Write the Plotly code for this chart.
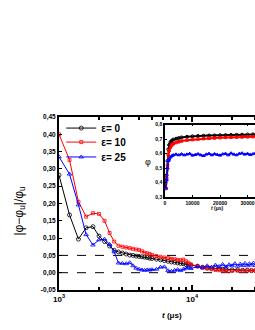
import plotly.graph_objects as go

# ---------------- main chart data ----------------
t_black = [1000, 1200, 1400, 1600, 1800, 2000, 2200, 2400, 2600, 2800, 3000, 3200, 3400, 3600, 3800,
           4000, 4200, 4400, 4600, 4800, 5000, 5400, 5800, 6200, 6600, 7000, 7400, 7800, 8200, 8600,
           9000, 9400, 9800, 11000, 12000, 13000, 14000, 15000, 16000, 17000, 18000, 20000, 22000,
           24000, 26000, 28000, 30000, 32000, 34000, 36000, 38000, 40000]
v_black = [0.282, 0.167, 0.097, 0.130, 0.133, 0.106, 0.090, 0.077, 0.065, 0.060, 0.057, 0.054, 0.051,
           0.050, 0.048, 0.047, 0.046, 0.045, 0.044, 0.042, 0.041, 0.039, 0.037, 0.035, 0.033, 0.031,
           0.030, 0.028, 0.027, 0.026, 0.024, 0.023, 0.022, 0.019, 0.016, 0.014, 0.013, 0.012, 0.011,
           0.010, 0.009, 0.008, 0.008, 0.007, 0.007, 0.006, 0.006, 0.006, 0.006, 0.005, 0.005, 0.005]

t_red = [1000, 1200, 1400, 1600, 1800, 2000, 2200, 2400, 2600, 2800, 3000, 3200, 3400, 3600, 3800,
         4000, 4200, 4400, 4600, 4800, 5000, 5400, 5800, 6200, 6600, 7000, 7400, 7800, 8200, 8600,
         9000, 9400, 9800, 11000, 12000, 13000, 14000, 15000, 16000, 17000, 18000, 20000, 22000,
         24000, 26000, 28000, 30000, 32000, 34000, 36000, 38000, 40000]
v_red = [0.400, 0.326, 0.205, 0.162, 0.172, 0.170, 0.150, 0.115, 0.090, 0.078, 0.075, 0.073, 0.071,
         0.069, 0.067, 0.066, 0.062, 0.058, 0.056, 0.054, 0.051, 0.048, 0.046, 0.044, 0.042, 0.040,
         0.039, 0.037, 0.036, 0.038, 0.033, 0.029, 0.024, 0.019, 0.015, 0.012, 0.010, 0.008, 0.007,
         0.006, 0.005, 0.005, 0.006, 0.005, 0.006, 0.007, 0.006, 0.008, 0.007, 0.009, 0.008, 0.009]

t_blue = [1000, 1200, 1400, 1600, 1800, 2000, 2200, 2400, 2600, 2800, 3000, 3200, 3400, 3600, 3800,
          4000, 4200, 4400, 4600, 4800, 5000, 5400, 5800, 6200, 6600, 7000, 7400, 7800, 8200, 8600,
          9000, 9400, 9800, 11000, 12000, 13000, 14000, 15000, 16000, 17000, 18000, 19000, 20000,
          21000, 22000, 23000, 24000, 25000, 26000, 27000, 28000, 29000, 30000, 31000, 32000, 33000,
          34000, 36000, 38000, 40000]
v_blue = [0.335, 0.285, 0.196, 0.110, 0.080, 0.095, 0.097, 0.082, 0.060, 0.028, 0.027, 0.026, 0.029,
          0.020, 0.013, 0.010, 0.008, 0.007, 0.008, 0.008, 0.009, 0.010, 0.016, 0.017, 0.006, 0.004,
          0.007, 0.009, 0.006, 0.010, 0.013, 0.016, 0.012, 0.018, 0.014, 0.020, 0.016, 0.022, 0.018,
          0.024, 0.017, 0.023, 0.020, 0.026, 0.019, 0.025, 0.021, 0.027, 0.020, 0.026, 0.022, 0.028,
          0.021, 0.026, 0.023, 0.029, 0.022, 0.027, 0.024, 0.028]

ref_levels = [0.05, 0.0]

y_tickvals = [-0.05, 0.0, 0.05, 0.10, 0.15, 0.20, 0.25, 0.30, 0.35, 0.40, 0.45]
y_ticktext = ["-0,05", "0,00", "0,05", "0,10", "0,15", "0,20", "0,25", "0,30", "0,35", "0,40", "0,45"]
x_tickvals = [1000, 10000]
x_ticktext = ["10<sup>3</sup>", "10<sup>4</sup>"]
x_minorvals = [2000, 3000, 4000, 5000, 6000, 7000, 8000, 9000, 20000, 30000, 40000]

# ---------------- inset data ----------------
ti_black = [300, 600, 900, 1200, 1500, 2000, 2500, 3000, 4000, 5000, 6000, 8000, 10000, 12000, 14000,
            16000, 18000, 20000, 22000, 24000, 26000, 28000, 30000, 32000, 34000, 36000, 38000]
vi_black = [0.36, 0.45, 0.55, 0.63, 0.66, 0.68, 0.69, 0.697, 0.703, 0.708, 0.712, 0.716, 0.72, 0.722,
            0.724, 0.725, 0.726, 0.727, 0.728, 0.729, 0.730, 0.731, 0.732, 0.733, 0.734, 0.735, 0.735]
ti_red = [300, 600, 900, 1200, 1500, 2000, 2500, 3000, 4000, 5000, 6000, 8000, 10000, 12000, 14000,
          16000, 18000, 20000, 22000, 24000, 26000, 28000, 30000, 32000, 34000, 36000, 38000]
vi_red = [0.36, 0.43, 0.52, 0.59, 0.62, 0.645, 0.66, 0.668, 0.676, 0.682, 0.687, 0.693, 0.697, 0.701,
          0.704, 0.706, 0.708, 0.710, 0.712, 0.713, 0.714, 0.715, 0.716, 0.717, 0.718, 0.719, 0.72]
ti_blue = [300, 600, 900, 1200, 1500, 2000, 2500, 3000, 4000, 5000, 6000, 7000, 8000, 9000, 10000,
           11000, 12000, 13000, 14000, 15000, 16000, 17000, 18000, 19000, 20000, 21000, 22000, 23000,
           24000, 25000, 26000, 27000, 28000, 29000, 30000, 31000, 32000, 33000, 34000, 35000, 36000,
           37000, 38000]
vi_blue = [0.36, 0.42, 0.50, 0.55, 0.56, 0.575, 0.585, 0.59, 0.595, 0.59, 0.597, 0.59, 0.595, 0.60,
           0.588, 0.592, 0.598, 0.59, 0.585, 0.595, 0.60, 0.59, 0.598, 0.593, 0.588, 0.597, 0.60, 0.59,
           0.603, 0.595, 0.59, 0.60, 0.603, 0.595, 0.60, 0.592, 0.598, 0.604, 0.595, 0.61, 0.60, 0.605,
           0.60]
xi_tickvals = [0, 10000, 20000, 30000]
xi_ticktext = ["0", "10000", "20000", "30000"]
yi_tickvals = [0.3, 0.4, 0.5, 0.6, 0.7, 0.8]
yi_ticktext = ["0,3", "0,4", "0,5", "0,6", "0,7", "0,8"]

labels = ["ε= 0", "ε= 10", "ε= 25"]

FONT = "Liberation Sans"
fig = go.Figure()

fig.add_trace(go.Scatter(x=t_black, y=v_black, mode="lines+markers", name=labels[0], legend="legend",
                         line=dict(color="black", width=1),
                         marker=dict(symbol="circle-open", size=4, color="black", line=dict(width=0.8))))
fig.add_trace(go.Scatter(x=t_red, y=v_red, mode="lines+markers", name=labels[1], legend="legend2",
                         line=dict(color="red", width=1),
                         marker=dict(symbol="square-open", size=3, color="red", line=dict(width=0.8))))
fig.add_trace(go.Scatter(x=t_blue, y=v_blue, mode="lines+markers", name=labels[2], legend="legend3",
                         line=dict(color="blue", width=1),
                         marker=dict(symbol="triangle-up-open", size=4, color="blue", line=dict(width=0.8))))

# inset traces
fig.add_trace(go.Scatter(x=ti_black, y=vi_black, xaxis="x2", yaxis="y2", mode="lines+markers",
                         showlegend=False, line=dict(color="black", width=2),
                         marker=dict(symbol="circle-open", size=3, color="black")))
fig.add_trace(go.Scatter(x=ti_red, y=vi_red, xaxis="x2", yaxis="y2", mode="lines+markers",
                         showlegend=False, line=dict(color="red", width=2),
                         marker=dict(symbol="square-open", size=2.5, color="red")))
fig.add_trace(go.Scatter(x=ti_blue, y=vi_blue, xaxis="x2", yaxis="y2", mode="lines+markers",
                         showlegend=False, line=dict(color="blue", width=1.5),
                         marker=dict(symbol="triangle-up-open", size=3, color="blue")))

for lvl in ref_levels:
    fig.add_shape(type="line", xref="paper", yref="y", x0=0, x1=1, y0=lvl, y1=lvl,
                  line=dict(color="black", width=1, dash="dash"), layer="below")

leg_common = dict(x=0.01, xanchor="left", yanchor="middle", bgcolor="rgba(0,0,0,0)",
                  font=dict(family=FONT, size=10, weight="bold"), itemwidth=30)

fig.update_layout(
    width=300, height=330,
    margin=dict(l=59, r=15, t=117, b=40),
    paper_bgcolor="white", plot_bgcolor="white",
    font=dict(family=FONT, color="black"),
    showlegend=True,
    legend=dict(y=0.936, **leg_common),
    legend2=dict(y=0.855, **leg_common),
    legend3=dict(y=0.769, **leg_common),
    xaxis=dict(type="log", range=[3, 4.699], showline=True, linecolor="black", linewidth=2,
               mirror="ticks", ticks="inside", ticklen=5, tickwidth=1.5, tickcolor="black",
               tickmode="array", tickvals=x_tickvals, ticktext=x_ticktext, showgrid=False,
               zeroline=False, tickfont=dict(size=8, weight="bold"),
               minor=dict(ticks="inside", ticklen=3, tickwidth=1.5, tickcolor="black",
                          tickvals=x_minorvals, showgrid=False)),
    yaxis=dict(range=[-0.05, 0.45], showline=True, linecolor="black", linewidth=2, mirror="ticks",
               ticks="inside", ticklen=3, tickwidth=1.2, tickcolor="black", tickmode="array",
               tickvals=y_tickvals, ticktext=y_ticktext, showgrid=False, zeroline=False,
               tickfont=dict(size=6.5, weight="bold")),
    xaxis2=dict(domain=[0.469, 0.956], anchor="y2", range=[0, 40000], showline=True,
                linecolor="black", linewidth=1.5, mirror="ticks", ticks="inside", ticklen=2,
                tickcolor="black", tickmode="array", tickvals=xi_tickvals, ticktext=xi_ticktext,
                showgrid=False, zeroline=False, tickfont=dict(size=5, weight="bold")),
    yaxis2=dict(domain=[0.5376, 0.9555], anchor="x2", range=[0.3, 0.8], showline=True,
                linecolor="black", linewidth=1.5, mirror="ticks", ticks="inside", ticklen=2,
                tickcolor="black", tickmode="array", tickvals=yi_tickvals, ticktext=yi_ticktext,
                showgrid=False, zeroline=False, tickfont=dict(size=5, weight="bold")),
    annotations=[
        dict(text="<i>t</i> (μs)", xref="paper", yref="paper", x=0.5, y=-0.145, xanchor="center",
             yanchor="middle", showarrow=False, font=dict(size=8, weight="bold")),
        dict(text="|φ−φ<sub>u</sub>|/φ<sub>u</sub>", xref="paper", yref="paper", x=-0.172, y=0.46,
             xanchor="center", yanchor="middle", textangle=-90, showarrow=False,
             font=dict(size=12)),
        dict(text="φ", xref="paper", yref="paper", x=0.394, y=0.74, xanchor="center",
             yanchor="middle", showarrow=False, font=dict(size=9)),
        dict(text="<i>t</i> (μs)", xref="paper", yref="paper", x=0.7, y=0.473, xanchor="center",
             yanchor="middle", showarrow=False, font=dict(size=5, weight="bold")),
    ],
)

fig.write_html("out.html", config={"displayModeBar": False},
               post_script="document.body.style.margin='0';document.body.style.overflow='hidden';"
                           "document.documentElement.style.overflow='hidden';")
